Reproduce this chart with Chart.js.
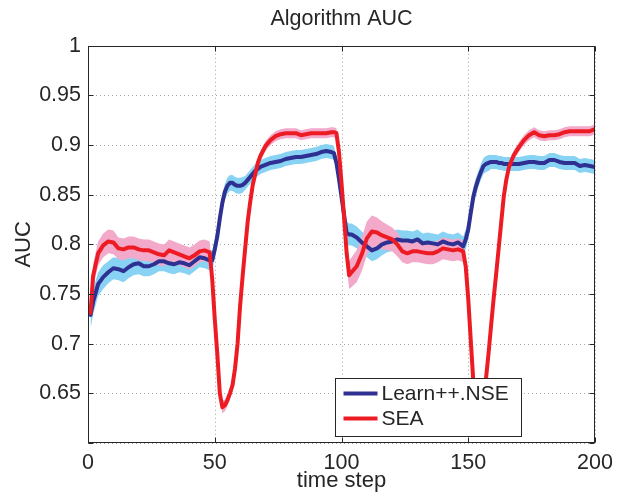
<!DOCTYPE html>
<html>
<head>
<meta charset="utf-8">
<title>Algorithm AUC</title>
<script src="https://cdn.jsdelivr.net/npm/chart.js@4.4.1/dist/chart.umd.min.js"></script>
<style>
  html, body { margin: 0; padding: 0; background: #fff; }
  #wrap { width: 626px; height: 498px; }
</style>
</head>
<body>
<div id="wrap"><canvas id="aucChart" width="626" height="498"></canvas></div>
<script>
// --- data (denser sampling around the drifts) ---
const steps = [
  1, 2, 4, 6, 8, 10, 12, 14, 16, 18, 20, 22, 24, 26, 28, 30, 32, 34, 36, 38, 40, 42, 44, 46, 48,
  49, 50, 51, 52, 53, 54, 55, 56, 57, 58, 59, 60, 61, 62, 63, 64, 65, 66, 67, 68,
  70, 72, 74, 76, 78, 80, 82, 84, 86, 88, 90, 92, 94, 96,
  97, 98, 99, 100, 101, 102, 103, 104,
  106, 108, 110, 112, 114, 116, 118, 120, 122, 124, 126, 128, 130, 132, 134, 136, 138, 140, 142, 144, 146, 148,
  149, 150, 151, 152, 153, 154, 155, 156, 157, 158, 159, 160, 161, 162, 163, 164, 165, 166, 167, 168,
  170, 172, 174, 176, 178, 180, 182, 184, 186, 188, 190, 192, 194, 196, 198, 200
];

const nseAuc = [
  0.729, 0.742, 0.760, 0.767, 0.772, 0.776, 0.775, 0.773, 0.777, 0.780, 0.781, 0.778, 0.778, 0.780, 0.783, 0.783, 0.781, 0.780, 0.782, 0.781, 0.779, 0.783, 0.787, 0.786, 0.784,
  0.784, 0.795, 0.808, 0.826, 0.842, 0.853, 0.859, 0.862, 0.862, 0.860, 0.859, 0.859, 0.860, 0.862, 0.865, 0.868, 0.871, 0.874, 0.876, 0.878,
  0.880, 0.882, 0.883, 0.884, 0.886, 0.887, 0.888, 0.888, 0.889, 0.890, 0.891, 0.893, 0.894, 0.893,
  0.892, 0.882, 0.866, 0.848, 0.830, 0.812, 0.810, 0.810,
  0.807, 0.802, 0.798, 0.794, 0.796, 0.800, 0.802, 0.803, 0.805, 0.804, 0.804, 0.803, 0.805, 0.801, 0.802, 0.801, 0.800, 0.803, 0.801, 0.800, 0.802, 0.798,
  0.805, 0.815, 0.832, 0.848, 0.858, 0.866, 0.873, 0.879, 0.881, 0.882, 0.883, 0.883, 0.883, 0.882, 0.882, 0.881, 0.881, 0.881, 0.881, 0.881,
  0.881, 0.882, 0.883, 0.883, 0.882, 0.882, 0.885, 0.885, 0.883, 0.882, 0.882, 0.882, 0.879, 0.880, 0.879, 0.878
];
const nseSpread = [
  0.014, 0.013, 0.012, 0.012, 0.011, 0.011, 0.011, 0.011, 0.011, 0.011, 0.011, 0.010, 0.010, 0.010, 0.010, 0.010, 0.010, 0.010, 0.010, 0.010, 0.010, 0.010, 0.010, 0.010, 0.010,
  0.010, 0.010, 0.010, 0.009, 0.009, 0.008, 0.008, 0.008, 0.008, 0.008, 0.008, 0.008, 0.008, 0.007, 0.007, 0.007, 0.007, 0.007, 0.007, 0.007,
  0.007, 0.007, 0.007, 0.007, 0.007, 0.007, 0.007, 0.007, 0.007, 0.007, 0.007, 0.007, 0.007, 0.007,
  0.007, 0.007, 0.008, 0.009, 0.010, 0.011, 0.011, 0.011,
  0.011, 0.011, 0.011, 0.011, 0.011, 0.011, 0.010, 0.010, 0.010, 0.010, 0.010, 0.010, 0.010, 0.010, 0.010, 0.010, 0.010, 0.010, 0.010, 0.010, 0.010, 0.010,
  0.010, 0.010, 0.010, 0.009, 0.009, 0.008, 0.008, 0.008, 0.008, 0.008, 0.007, 0.007, 0.007, 0.007, 0.007, 0.007, 0.007, 0.007, 0.007, 0.007,
  0.007, 0.007, 0.007, 0.007, 0.007, 0.007, 0.007, 0.007, 0.007, 0.007, 0.007, 0.007, 0.007, 0.007, 0.007, 0.007
];

const seaAuc = [
  0.731, 0.768, 0.791, 0.799, 0.803, 0.802, 0.796, 0.795, 0.797, 0.797, 0.795, 0.794, 0.794, 0.792, 0.790, 0.789, 0.794, 0.792, 0.790, 0.788, 0.786, 0.789, 0.793, 0.794, 0.792,
  0.765, 0.725, 0.690, 0.650, 0.636, 0.638, 0.643, 0.650, 0.658, 0.675, 0.700, 0.738, 0.768, 0.796, 0.823, 0.843, 0.860, 0.871, 0.882, 0.889,
  0.899, 0.905, 0.909, 0.911, 0.912, 0.912, 0.912, 0.910, 0.911, 0.912, 0.912, 0.912, 0.912, 0.913,
  0.913, 0.912, 0.893, 0.862, 0.828, 0.792, 0.769, 0.772,
  0.778, 0.790, 0.806, 0.813, 0.812, 0.809, 0.807, 0.805, 0.800, 0.793, 0.791, 0.793, 0.793, 0.792, 0.791, 0.791, 0.793, 0.796, 0.795, 0.794, 0.795, 0.793,
  0.778, 0.745, 0.703, 0.662, 0.630, 0.618, 0.622, 0.640, 0.665, 0.690, 0.718, 0.745, 0.770, 0.796, 0.822, 0.848, 0.865, 0.877, 0.884, 0.890,
  0.898, 0.905, 0.910, 0.913, 0.910, 0.909, 0.910, 0.910, 0.911, 0.913, 0.914, 0.914, 0.914, 0.914, 0.914, 0.916
];
const seaSpread = [
  0.013, 0.012, 0.012, 0.012, 0.012, 0.012, 0.011, 0.011, 0.011, 0.011, 0.011, 0.011, 0.011, 0.011, 0.011, 0.011, 0.011, 0.011, 0.011, 0.011, 0.011, 0.011, 0.011, 0.011, 0.011,
  0.010, 0.008, 0.007, 0.006, 0.006, 0.006, 0.006, 0.006, 0.006, 0.005, 0.005, 0.005, 0.005, 0.005, 0.005, 0.005, 0.005, 0.005, 0.005, 0.005,
  0.005, 0.005, 0.005, 0.005, 0.005, 0.005, 0.005, 0.005, 0.005, 0.005, 0.005, 0.005, 0.005, 0.005,
  0.005, 0.005, 0.006, 0.008, 0.010, 0.013, 0.014, 0.015,
  0.016, 0.017, 0.017, 0.016, 0.015, 0.014, 0.013, 0.012, 0.012, 0.011, 0.011, 0.011, 0.011, 0.011, 0.011, 0.011, 0.011, 0.011, 0.011, 0.011, 0.011, 0.011,
  0.010, 0.008, 0.007, 0.006, 0.006, 0.006, 0.006, 0.006, 0.006, 0.006, 0.005, 0.005, 0.005, 0.005, 0.005, 0.005, 0.005, 0.005, 0.005, 0.005,
  0.005, 0.005, 0.005, 0.005, 0.005, 0.005, 0.005, 0.005, 0.005, 0.005, 0.005, 0.005, 0.005, 0.005, 0.005, 0.005
];

const seriesNames = ['Learn++.NSE', 'SEA'];
const xRange = [0, 200];
const xStep = 50;
const yRange = [0.6, 1];
const yStep = 0.05;

// --- styling ---
const FONT = "'Liberation Sans', Arial, Helvetica, sans-serif";
const TEXT = '#262626';
const NSE_LINE = '#2e3192';
const SEA_LINE = '#ed1c24';
const NSE_BAND = '#88d3f4';
const SEA_BAND = '#f3a9c9';

const pts = (vals, off, sign) => steps.map((s, i) => ({ x: s, y: vals[i] + sign * (off ? off[i] : 0) }));

const band = (label, data, color, fill, order) => ({
  label, data, fill, order,
  backgroundColor: color,
  borderColor: 'rgba(0,0,0,0)',
  borderWidth: 0,
  pointRadius: 0,
  tension: 0
});

const line = (label, data, color, order) => ({
  label, data, order,
  borderColor: color,
  backgroundColor: color,
  borderWidth: 4,
  pointRadius: 0,
  fill: false,
  tension: 0,
  borderJoinStyle: 'round',
  borderCapStyle: 'round'
});

// grid, box, inward ticks and the boxed legend, MATLAB style
const matlabAxes = {
  id: 'matlabAxes',
  beforeDatasetsDraw(chart) {
    const { ctx, chartArea: a, scales: { x, y } } = chart;
    ctx.save();
    ctx.strokeStyle = '#a8a8a8';
    ctx.lineWidth = 1;
    ctx.setLineDash([1, 3]);
    x.ticks.forEach(t => {
      const px = Math.round(x.getPixelForValue(t.value)) + 0.5;
      ctx.beginPath(); ctx.moveTo(px, a.top); ctx.lineTo(px, a.bottom); ctx.stroke();
    });
    y.ticks.forEach(t => {
      const py = Math.round(y.getPixelForValue(t.value)) + 0.5;
      ctx.beginPath(); ctx.moveTo(a.left, py); ctx.lineTo(a.right, py); ctx.stroke();
    });
    ctx.restore();
  },
  afterDatasetsDraw(chart) {
    const { ctx, chartArea: a, scales: { x, y } } = chart;
    const L = Math.round(a.left) + 0.5, R = Math.round(a.right) - 0.5;
    const T = Math.round(a.top) + 0.5, B = Math.round(a.bottom) - 0.5;
    ctx.save();
    ctx.strokeStyle = TEXT;
    ctx.lineWidth = 1;
    ctx.strokeRect(L, T, R - L, B - T);
    const tk = 5;
    ctx.beginPath();
    x.ticks.forEach(t => {
      const px = Math.round(x.getPixelForValue(t.value)) + 0.5;
      ctx.moveTo(px, B); ctx.lineTo(px, B - tk);
      ctx.moveTo(px, T); ctx.lineTo(px, T + tk);
    });
    y.ticks.forEach(t => {
      const py = Math.round(y.getPixelForValue(t.value)) + 0.5;
      ctx.moveTo(L, py); ctx.lineTo(L + tk, py);
      ctx.moveTo(R, py); ctx.lineTo(R - tk, py);
    });
    ctx.stroke();

    // legend box
    const bx = Math.round(a.left + 247) + 0.5, by = Math.round(a.top + 332) + 0.5;
    const bw = 186, bh = 58;
    ctx.fillStyle = '#fff';
    ctx.fillRect(bx, by, bw, bh);
    ctx.strokeStyle = TEXT;
    ctx.strokeRect(bx, by, bw, bh);
    const items = [[seriesNames[0], NSE_LINE], [seriesNames[1], SEA_LINE]];
    ctx.font = '21px ' + FONT;
    ctx.textBaseline = 'middle';
    ctx.textAlign = 'left';
    items.forEach(([name, col], i) => {
      const ly = by + 15 + i * 25;
      ctx.strokeStyle = col;
      ctx.lineWidth = 4;
      ctx.beginPath(); ctx.moveTo(bx + 8, ly); ctx.lineTo(bx + 42, ly); ctx.stroke();
      ctx.fillStyle = TEXT;
      ctx.fillText(name, bx + 46, ly + 1);
    });
    ctx.restore();
  }
};

new Chart(document.getElementById('aucChart'), {
  type: 'line',
  data: {
    datasets: [
      band('nse upper', pts(nseAuc, nseSpread, 1), NSE_BAND, '+1', 5),
      band('nse lower', pts(nseAuc, nseSpread, -1), NSE_BAND, false, 5),
      band('sea upper', pts(seaAuc, seaSpread, 1), SEA_BAND, '+1', 4),
      band('sea lower', pts(seaAuc, seaSpread, -1), SEA_BAND, false, 4),
      line(seriesNames[0], pts(nseAuc, null, 0), NSE_LINE, 2),
      line(seriesNames[1], pts(seaAuc, null, 0), SEA_LINE, 1)
    ]
  },
  options: {
    responsive: false,
    animation: false,
    devicePixelRatio: 1,
    layout: { padding: { left: 0, right: 31, top: 0, bottom: 0 } },
    plugins: {
      legend: { display: false },
      tooltip: { enabled: false },
      title: {
        display: true,
        fullSize: false,
        text: 'Algorithm AUC',
        color: TEXT,
        font: { family: FONT, size: 21.5, weight: 'normal', lineHeight: 1.2 },
        padding: { top: 6, bottom: 14 }
      }
    },
    scales: {
      x: {
        type: 'linear',
        min: xRange[0], max: xRange[1],
        afterFit: s => { s.height = 55; },
        grid: { display: false, drawTicks: false },
        border: { display: false },
        ticks: {
          stepSize: xStep, autoSkip: false, maxRotation: 0,
          padding: 7, color: TEXT,
          font: { family: FONT, size: 21.5 }
        },
        title: {
          display: true, text: 'time step', color: TEXT,
          font: { family: FONT, size: 22, lineHeight: 1.2 },
          padding: { top: 0, bottom: 4 }
        }
      },
      y: {
        min: yRange[0], max: yRange[1],
        afterFit: s => { s.width = 88; },
        grid: { display: false, drawTicks: false },
        border: { display: false },
        ticks: {
          stepSize: yStep, padding: 7, color: TEXT,
          font: { family: FONT, size: 21.5 },
          callback: v => Math.abs(v - yRange[0]) < 1e-9 ? '' : String(Number(v.toFixed(2)))
        },
        title: {
          display: true, text: 'AUC', color: TEXT,
          font: { family: FONT, size: 22, lineHeight: 1.2 },
          padding: { top: 11, bottom: 0 }
        }
      }
    }
  },
  plugins: [matlabAxes]
});
</script>
</body>
</html>
